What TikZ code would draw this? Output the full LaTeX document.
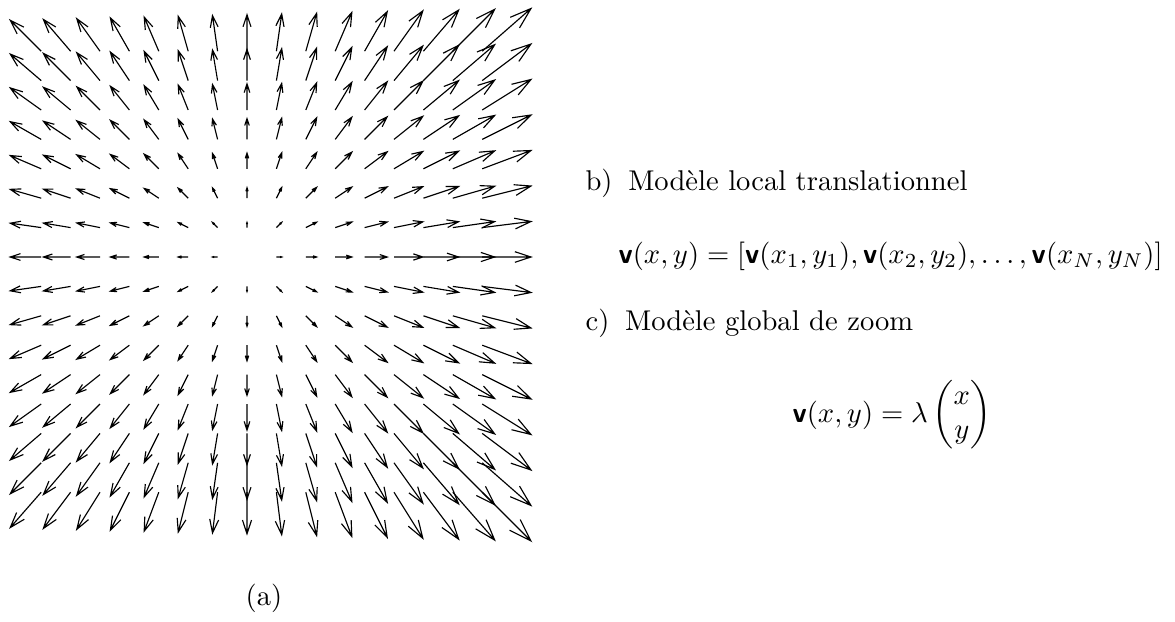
\documentclass[tikz,border=0pt]{standalone}
\usepackage{amsmath}
\newcommand{\myv}{\text{\normalfont\sffamily\bfseries v}}
\tikzset{vec/.style={line width=0.4pt, black}}
\begin{document}
\begin{tikzpicture}[x=0.35pt, y=-0.35pt]
\useasboundingbox (0,0) rectangle (1175,622);
\foreach \i in {-7,...,8}{
  \foreach \j in {-7,...,8}{
    \pgfmathsetmacro{\tx}{247+29.4*\i}
    \pgfmathsetmacro{\ty}{257+29.4*\j}
    \pgfmathsetmacro{\u}{5.2*(\i+0.0215*\i*\i)}
    \pgfmathsetmacro{\v}{5.2*(\j+0.0215*\i*\j)}
    \pgfmathsetmacro{\hx}{\tx+\u}
    \pgfmathsetmacro{\hy}{\ty+\v}
    \pgfmathsetmacro{\ax}{\hx-0.33*(\u+0.33*\v)}
    \pgfmathsetmacro{\ay}{\hy-0.33*(\v-0.33*\u)}
    \pgfmathsetmacro{\bx}{\hx-0.33*(\u-0.33*\v)}
    \pgfmathsetmacro{\by}{\hy-0.33*(\v+0.33*\u)}
    \draw[vec] (\tx,\ty) -- (\hx,\hy) (\ax,\ay) -- (\hx,\hy) -- (\bx,\by);
  }
}
\node[anchor=center] (lbla) at (264,598) {(a)};
\node[anchor=base west, inner sep=0pt] (lblb) at (585,190) {b)\hspace{0.55em}Modèle local translationnel};
\node[anchor=base west, inner sep=0pt] (eqb) at (618,263)
  {$\myv(x,y) = [\myv(x_1,y_1), \myv(x_2,y_2), \ldots, \myv(x_N,y_N)]$};
\node[anchor=base west, inner sep=0pt] (lblc) at (585,330) {c)\hspace{0.55em}Modèle global de zoom};
\node[anchor=base west, inner sep=0pt] (eqc) at (792,422)
  {$\myv(x,y) = \lambda \begin{pmatrix} x \\ y \end{pmatrix}$};
\end{tikzpicture}
\end{document}
